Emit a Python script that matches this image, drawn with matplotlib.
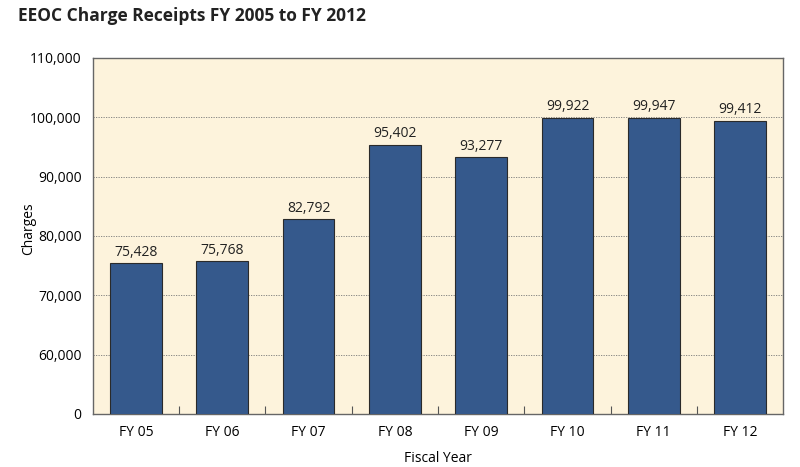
import matplotlib.pyplot as plt
import numpy as np
from matplotlib.ticker import FuncFormatter

years = ["FY 05", "FY 06", "FY 07", "FY 08", "FY 09", "FY 10", "FY 11", "FY 12"]
charges = [75428, 75768, 82792, 95402, 93277, 99922, 99947, 99412]

# axis is broken: 0 sits where 50,000 would be
AXIS_FLOOR = 50000
yticks = [50000, 60000, 70000, 80000, 90000, 100000, 110000]

plt.rcParams['font.family'] = ['Open Sans', 'DejaVu Sans']

fig = plt.figure(figsize=(8, 4.67), dpi=100)
ax = fig.add_axes([0.116, 0.1135, 0.863, 0.7625])
ax.set_facecolor("#FDF3DC")

x = np.arange(len(years))
bars = ax.bar(x, charges, width=0.6, color="#35598C", edgecolor="#2a2a2a",
              linewidth=0.8, zorder=3)

for xi, v in zip(x, charges):
    ax.text(xi, v + 600, f"{v:,}", ha="center", va="bottom", fontsize=10,
            color="#222222", zorder=4)

ax.set_xlim(-0.5, len(years) - 0.5)
ax.set_ylim(AXIS_FLOOR, 110000)
ax.set_yticks(yticks)
ax.yaxis.set_major_formatter(FuncFormatter(
    lambda v, p: "0" if v <= AXIS_FLOOR else f"{int(v):,}"))
for t in yticks[1:-1]:
    ax.axhline(t, color="#777777", linestyle=(0, (1.5, 1.5)), linewidth=0.6, zorder=1)

ax.set_xticks(x)
ax.set_xticklabels(years)
ax.set_xticks(np.arange(0.5, len(years) - 1), minor=True)
ax.tick_params(axis="x", which="major", length=0, labelsize=10, pad=8)
ax.tick_params(axis="x", which="minor", direction="in", length=6, width=0.8,
               color="#555555")
ax.tick_params(axis="y", length=0, labelsize=10, pad=8)

for s in ax.spines.values():
    s.set_color("#666666")
    s.set_linewidth(1.0)

ax.set_ylabel("Charges", fontsize=10)
ax.yaxis.set_label_coords(-0.082, 0.52)
ax.set_xlabel("Fiscal Year", fontsize=10, labelpad=8)

fig.text(0.022, 0.965, "EEOC Charge Receipts FY 2005 to FY 2012", fontsize=12.5,
         fontweight="bold", ha="left", va="center", color="#222222")

fig.savefig("out.png", dpi=100, facecolor="white")
